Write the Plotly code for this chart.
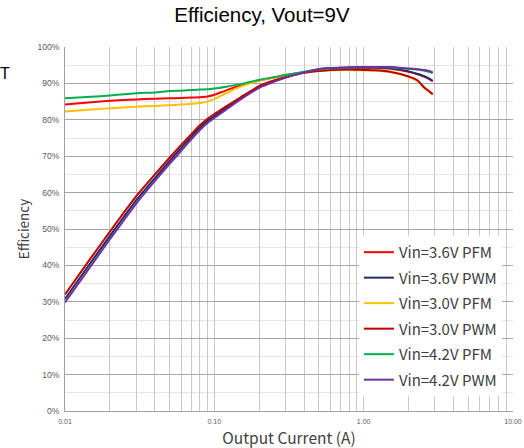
import plotly.graph_objects as go

# Output current (A)
current = [0.01, 0.015, 0.02, 0.03, 0.04, 0.05, 0.06, 0.07, 0.08, 0.09, 0.1, 0.12, 0.15,
           0.2, 0.25, 0.3, 0.4, 0.5, 0.6, 0.8, 1.0, 1.2, 1.5, 2.0, 2.3, 2.55, 2.75, 2.9]

# Efficiency (%)
eff_36_pfm = [84.2, 84.8, 85.2, 85.6, 85.8, 85.9, 86.0, 86.1, 86.2, 86.4, 86.9, 88.1, 89.4,
              90.8, 91.6, 92.3, 93.1, 93.6, 93.9, 94.1, 94.2, 94.2, 94.0, 93.2, 92.5, 91.8, 91.2, 90.6]
eff_36_pwm = [30.8, 41.0, 48.1, 57.9, 64.0, 68.6, 72.3, 75.3, 77.8, 79.7, 81.0, 83.2, 85.9,
              89.0, 90.6, 91.7, 93.1, 93.9, 94.2, 94.4, 94.4, 94.4, 94.2, 93.3, 92.6, 92.0, 91.3, 90.7]
eff_30_pfm = [82.3, 82.8, 83.2, 83.6, 83.8, 84.0, 84.2, 84.4, 84.6, 85.0, 85.7, 87.3, 89.1,
              90.8, 91.6, 92.2, 93.0, 93.4, 93.6, 93.7, 93.6, 93.5, 93.1, 91.8, 90.6, 88.8, 87.8, 86.9]
eff_30_pwm = [32.0, 42.2, 49.3, 59.0, 65.0, 69.5, 73.1, 76.0, 78.5, 80.3, 81.6, 83.7, 86.2,
              89.3, 90.8, 91.7, 92.9, 93.4, 93.7, 93.8, 93.7, 93.6, 93.2, 91.9, 90.8, 88.8, 87.8, 87.0]
eff_42_pfm = [85.9, 86.3, 86.7, 87.3, 87.5, 87.9, 88.0, 88.2, 88.3, 88.4, 88.6, 89.1, 89.8,
              91.0, 91.7, 92.3, 93.2, 93.8, 94.1, 94.3, 94.4, 94.4, 94.4, 94.0, 93.8, 93.5, 93.2, 92.8]
eff_42_pwm = [29.8, 40.0, 47.2, 57.0, 63.2, 67.8, 71.5, 74.6, 77.2, 79.1, 80.5, 82.8, 85.6,
              88.8, 90.4, 91.6, 93.0, 93.9, 94.2, 94.4, 94.5, 94.5, 94.5, 94.1, 93.9, 93.7, 93.4, 93.0]

series_names = ["Vin=3.6V PFM", "Vin=3.6V PWM", "Vin=3.0V PFM",
                "Vin=3.0V PWM", "Vin=4.2V PFM", "Vin=4.2V PWM"]
series_values = [eff_36_pfm, eff_36_pwm, eff_30_pfm, eff_30_pwm, eff_42_pfm, eff_42_pwm]
series_colors = ["#FF0000", "#1F2F5F", "#FFC000", "#C00000", "#00B050", "#7030A0"]

x_tickvals = [m * 10 ** e for e in (-2, -1, 0) for m in range(1, 10)] + [10]
x_ticktext = ["0.01" if v == 0.01 else "0.10" if v == 0.1 else "1.00" if v == 1 else
              "10.00" if v == 10 else "" for v in x_tickvals]
y_tickvals = list(range(0, 101, 10))
y_ticktext = [f"{v}%" for v in y_tickvals]

fig = go.Figure()
for i, (name, vals, col) in enumerate(zip(series_names, series_values, series_colors)):
    fig.add_trace(go.Scatter(
        x=current, y=vals, name=name, mode="lines",
        line=dict(color=col, width=2, shape="spline", smoothing=0.5),
        legendgroup=f"g{i}",
    ))

fig.update_layout(
    width=524, height=448,
    margin=dict(l=65, r=11, t=47, b=37),
    paper_bgcolor="white", plot_bgcolor="white",
    title=dict(text="Efficiency, Vout=9V", x=0.5, xanchor="center", y=0.967, yanchor="middle",
               font=dict(family="Liberation Sans, Arial", size=20.5, color="#000000")),
    font=dict(family="Noto Sans CJK SC, Noto Sans", color="#404040"),
    xaxis=dict(
        type="log", range=[-2, 1], automargin=False,
        tickvals=x_tickvals, ticktext=x_ticktext,
        showgrid=True, gridcolor="#C8C8C8", gridwidth=1,
        showline=True, linecolor="#A0A0A0", linewidth=1, mirror=False,
        ticks="", ticklabelstandoff=4,
        tickfont=dict(size=7, color="#595959", family="Liberation Sans, Arial"),
        title=dict(text="Output Current (A)", font=dict(size=15.5, color="#404040"), standoff=13),
        zeroline=False,
    ),
    yaxis=dict(
        range=[0, 100], automargin=False,
        tickvals=y_tickvals, ticktext=y_ticktext,
        showgrid=True, gridcolor="#A6A6A6", gridwidth=1,
        minor=dict(dtick=5, showgrid=True, gridcolor="#E6E6E6", gridwidth=1),
        showline=True, linecolor="#A0A0A0", linewidth=1,
        ticks="", ticklabelstandoff=3,
        tickfont=dict(size=8.5, color="#595959", family="Liberation Sans, Arial"),
        title=dict(text="Efficiency", font=dict(size=13.5, color="#404040"), standoff=4),
        zeroline=False,
    ),
    legend=dict(
        x=0.656, y=0.481, xanchor="left", yanchor="top",
        bgcolor="white", borderwidth=0,
        font=dict(size=15, color="#404040", family="Noto Sans CJK SC, Noto Sans"),
        tracegroupgap=3, itemwidth=30,
    ),
    annotations=[dict(text="T", xref="paper", yref="paper", x=-0.134, y=0.926,
                      xanchor="center", yanchor="middle", showarrow=False,
                      font=dict(size=16, color="#000000", family="Liberation Sans, Arial"))],
)

fig.write_html("out.html", config={"displayModeBar": False},
               post_script="document.body.style.margin='0';")
